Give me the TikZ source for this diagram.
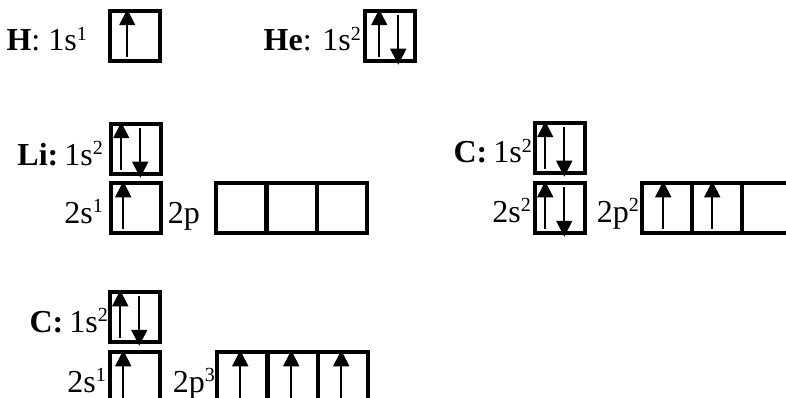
\documentclass[tikz,border=0pt]{standalone}
\usepackage{fontspec}
\setmainfont{Liberation Serif}
\usetikzlibrary{calc,arrows.meta}
\tikzset{
  orb/.style={
    draw=black,
    line width=3.5pt,
    minimum size=50pt,
    inner sep=0pt
  },
  spin/.style={
    line width=1.6pt,
    -{Triangle[width=16pt,length=16pt]}
  },
  lbl/.style={
    anchor=base east,
    inner sep=0pt,
    font=\fontsize{32}{36}\selectfont
  }
}
\newcommand{\occ}[1]{\raisebox{10.5pt}{\fontsize{20}{20}\selectfont #1}}
\newcommand{\spinup}[2]{
  \draw[spin] ($(#1.south west)+(#2,-6)$) -- ($(#1.north west)+(#2,0)$);
}
\newcommand{\spindown}[2]{
  \draw[spin] ($(#1.north west)+(#2,6)$) -- ($(#1.south west)+(#2,2)$);
}
\newcommand{\spinpair}[1]{
  \spinup{#1}{12}
  \spindown{#1}{31}
}

\begin{document}
\begin{tikzpicture}[x=1pt,y=-1pt]
  \useasboundingbox (0,0) rectangle (786,398);
  % Hydrogen and helium
  \node[orb] (h1s) at (135,36) {};
  \node[lbl] (hlab) at (87,51) {\textbf{H}: 1s\occ{1}};
  \spinup{h1s}{19}
  \node[orb] (he1s) at (390,36) {};
  \node[lbl] (helab) at (361,51) {\textbf{He}: 1s\occ{2}};
  \spinup{he1s}{16}
  \spindown{he1s}{35}
  % Lithium
  \node[orb] (li1s) at (136,149) {};
  \node[orb] (li2s) at (136,208) {};
  \node[orb] (li2pa) at (241,208) {};
  \node[orb] (li2pb) at (292,208) {};
  \node[orb] (li2pc) at (342,208) {};
  \node[lbl] (li1lab) at (103,165) {\textbf{Li:}\hspace{6pt}1s\occ{2}};
  \node[lbl] (li2lab) at (103,223) {2s\occ{1}};
  \node[lbl] (lip) at (200,223) {2p};
  \spinpair{li1s}
  \spinup{li2s}{14}
  % Carbon, ground state
  \node[orb] (c1s) at (560,148) {};
  \node[orb] (c2s) at (560,208) {};
  \node[orb] (c2pa) at (667,208) {};
  \node[orb] (c2pb) at (717,208) {};
  \node[orb] (c2pc) at (767,208) {};
  \node[lbl] (c1lab) at (532,163) {\textbf{C:}\hspace{6pt}1s\occ{2}};
  \node[lbl] (c2lab) at (531,222) {2s\occ{2}};
  \node[lbl] (cplab) at (639,222) {2p\occ{2}};
  \spinpair{c1s}
  \spinpair{c2s}
  \spinup{c2pa}{23}
  \spinup{c2pb}{22}
  % Carbon, promoted
  \node[orb] (d1s) at (135,317) {};
  \node[orb] (d2s) at (135,377) {};
  \node[orb] (d2pa) at (242,377) {};
  \node[orb] (d2pb) at (293,377) {};
  \node[orb] (d2pc) at (343,377) {};
  \node[lbl] (d1lab) at (108,332) {\textbf{C:}\hspace{6pt}1s\occ{2}};
  \node[lbl] (d2lab) at (106,392) {2s\occ{1}};
  \node[lbl] (dplab) at (215,392) {2p\occ{3}};
  \spinpair{d1s}
  \spinup{d2s}{15}
  \foreach \b in {d2pa,d2pb,d2pc}{
    \spinup{\b}{25}
  }
\end{tikzpicture}
\end{document}
